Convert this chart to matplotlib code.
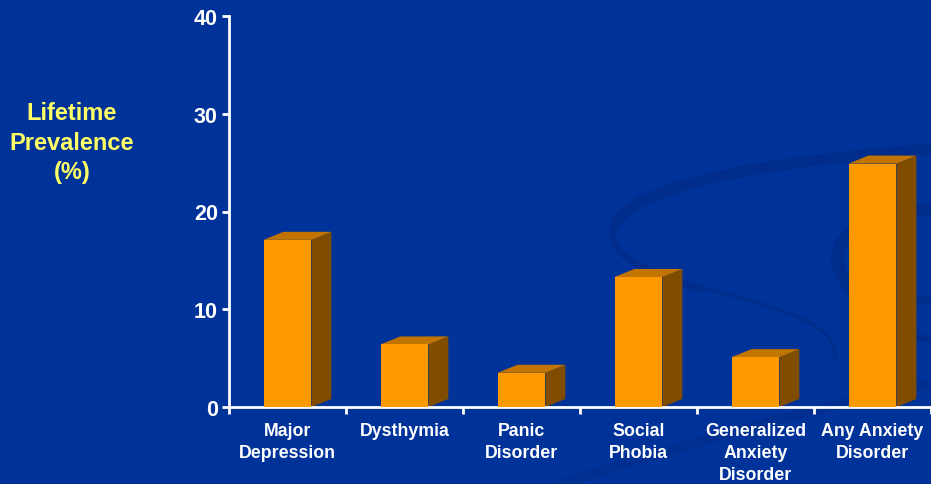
import matplotlib.pyplot as plt
from matplotlib.patches import Polygon, PathPatch
from matplotlib.path import Path

categories = ["Major\nDepression", "Dysthymia", "Panic\nDisorder", "Social\nPhobia",
              "Generalized\nAnxiety\nDisorder", "Any Anxiety\nDisorder"]
prevalence = [17.1, 6.4, 3.5, 13.3, 5.1, 24.9]
yticks = [0, 10, 20, 30, 40]

BG = "#003399"
FRONT = "#FF9900"
TOP = "#C27400"
SIDE = "#804C00"
SWIRL = "#002D8C"
W, H = 931, 485

fig = plt.figure(figsize=(W / 100, H / 100), dpi=100, facecolor=BG)

# faint background swirl, drawn in pixel coords on a background axes
bg = fig.add_axes([0, 0, 1, 1], zorder=-1)
bg.set_xlim(0, W)
bg.set_ylim(H, 0)
bg.axis("off")

def swirl(verts, lw, alpha=1.0):
    codes = [Path.MOVETO] + [Path.CURVE4] * (len(verts) - 1)
    bg.add_patch(PathPatch(Path(verts, codes), fill=False, lw=lw, edgecolor=SWIRL,
                           alpha=alpha, capstyle="round"))

swirl([(931, 150), (800, 160), (640, 180), (615, 225)], 8)
swirl([(615, 225), (600, 260), (660, 275), (700, 290)], 5)
swirl([(690, 285), (760, 305), (840, 320), (835, 360)], 2.5)
swirl([(931, 210), (870, 215), (800, 240), (860, 300)], 9)
swirl([(931, 300), (880, 310), (830, 330), (931, 340)], 5)
swirl([(560, 485), (700, 440), (850, 400), (931, 385)], 7, alpha=0.6)

ax = fig.add_axes([229 / W, (H - 408) / H, (931 - 229) / W, (408 - 17) / H])
ax.set_facecolor("none")

x = list(range(len(categories)))
bw = 0.41
dx, dy = 0.17, 0.82

ax.bar(x, prevalence, width=bw, color=FRONT, zorder=3)
for xi, v in zip(x, prevalence):
    r = xi + bw / 2
    l = xi - bw / 2
    ax.add_patch(Polygon([(r, 0), (r + dx, dy), (r + dx, v + dy), (r, v)],
                         closed=True, facecolor=SIDE, edgecolor="none", zorder=2))
    ax.add_patch(Polygon([(l, v), (l + dx, v + dy), (r + dx, v + dy), (r, v)],
                         closed=True, facecolor=TOP, edgecolor="none", zorder=2))

ax.set_xlim(-0.5, 5.44)
ax.set_ylim(0, 40)
ax.set_yticks(yticks)
ax.set_xticks(x)
ax.set_xticklabels(categories, linespacing=1.38)
ax.set_xticks([i - 0.5 for i in range(len(categories) + 1)], minor=True)

for s in ["top", "right"]:
    ax.spines[s].set_visible(False)
for s in ["left", "bottom"]:
    ax.spines[s].set_color("white")
    ax.spines[s].set_linewidth(2)

ax.tick_params(axis="y", colors="white", width=2, length=5, pad=3, labelsize=15.5)
ax.tick_params(axis="x", which="major", length=0, pad=11, colors="white", labelsize=12.8)
ax.tick_params(axis="x", which="minor", length=5, width=2, color="white")
for lab in ax.get_yticklabels() + ax.get_xticklabels():
    lab.set_fontfamily("Liberation Sans")
    lab.set_fontweight("bold")

fig.text(72 / W, 1 - 143 / H, "Lifetime\nPrevalence\n(%)", color="#FFFF66",
         ha="center", va="center", fontsize=17, fontweight="bold",
         family="Liberation Sans", linespacing=1.36)

fig.savefig("out.png", dpi=100, facecolor=BG)
